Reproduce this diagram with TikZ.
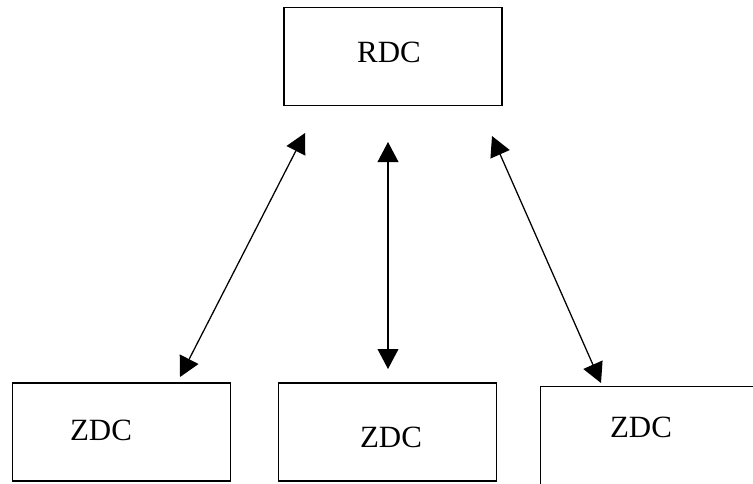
\documentclass[tikz,border=0pt]{standalone}
\usepackage{fontspec}
\setmainfont{Liberation Serif}
\usetikzlibrary{arrows.meta}

\tikzset{
  dcbox/.style={draw, line width=1pt, minimum width=5.45cm, minimum height=2.45cm, inner sep=0pt},
  dclabel/.style={font=\fontsize{22}{26}\selectfont, inner sep=0pt},
  link/.style={line width=0.9pt, {Triangle[length=0.5cm,width=0.52cm]}-{Triangle[length=0.5cm,width=0.52cm]}}
}

\begin{document}
\begin{tikzpicture}[x=0.025cm, y=-0.025cm]
        \useasboundingbox (0,0) rectangle (753,483);

        % Oben
        \node[dcbox] at (393,56.5) (rdc) {};
        \node[dclabel] at (389,52) (rdctext) {RDC};

        % Unten
        \node[dcbox] at (121.5,432) (zdca) {};
        \node[dclabel] at (101,430) (zdcatext) {ZDC};
        \node[dcbox] at (387.5,432) (zdcb) {};
        \node[dclabel] at (391,437) (zdcbtext) {ZDC};
        \node[dcbox, anchor=north west] at (540,386) (zdcc) {};
        \node[dclabel] at (641,427) (zdcctext) {ZDC};

        % Pfeilenden
        \coordinate (la) at (305,133);
        \coordinate (lb) at (180,377);
        \coordinate (ma) at (388,142);
        \coordinate (mb) at (388,369);
        \coordinate (ra) at (492,136);
        \coordinate (rb) at (601,383);

        % Pfeile
        \draw[link] (la) -- (lb);
        \draw[link] (ma) -- (mb);
        \draw[link] (ra) -- (rb);

    \end{tikzpicture}
\end{document}
